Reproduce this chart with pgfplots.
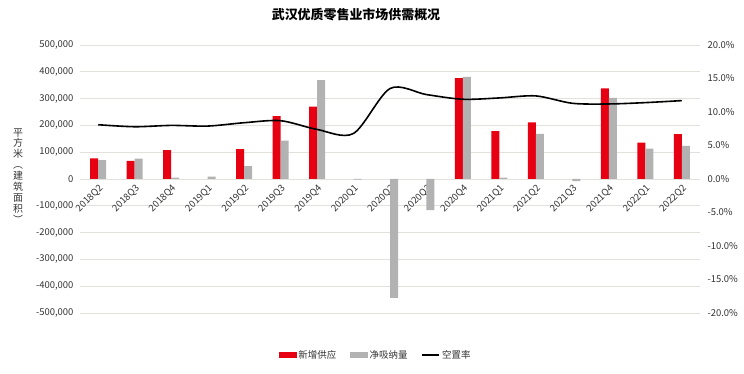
\documentclass[border=0pt]{standalone}
\usepackage{pgfplots}
\pgfplotsset{compat=1.18}
\usepackage{fontspec}
\setmainfont{Noto Sans CJK SC}
\definecolor{cred}{HTML}{E60012}
\definecolor{cgray}{HTML}{B2B2B2}
\definecolor{cgrid}{HTML}{E3E1DC}
\begin{document}
\begin{tikzpicture}
\useasboundingbox (-80bp,-61bp) rectangle (664bp,313bp);
\begin{axis}[
  at={(0,0)}, anchor=south west,
  scale only axis, width=620bp, height=268bp,
  xmin=-0.5, xmax=16.5, ymin=-500000, ymax=500000,
  axis x line*=middle, axis y line*=left,
  axis line style={draw=none},
  major tick length=0pt,
  hide obscured x ticks=false, hide obscured y ticks=false,
  xtick={0,...,16},
  xticklabels={2018Q2,2018Q3,2018Q4,2019Q1,2019Q2,2019Q3,2019Q4,2020Q1,2020Q2,2020Q3,2020Q4,2021Q1,2021Q2,2021Q3,2021Q4,2022Q1,2022Q2},
  x tick label style={xshift=4bp, yshift=-7bp, rotate=45, anchor=east, font=\fontsize{9.5}{10}\selectfont, text=black!80, inner sep=1bp},
  ytick={-500000,-400000,...,500000},
  scaled y ticks=false,
  y tick label style={/pgf/number format/fixed, /pgf/number format/1000 sep={,}, /pgf/number format/assume math mode=true, font=\fontsize{9.5}{10}\selectfont, text=black!80, xshift=-3bp},
  ymajorgrids, grid style={cgrid, line width=0.8bp},
  clip=false,
]
\addplot[ybar, bar width=8bp, bar shift=-4bp, fill=cred, draw=none] coordinates {
 (0,77000) (1,68000) (2,108000) (4,111000) (5,235000) (6,270000)
 (10,376000) (11,179000) (12,211000) (14,338000) (15,136000) (16,167000)};
\addplot[ybar, bar width=8bp, bar shift=4bp, fill=cgray, draw=none] coordinates {
 (0,70000) (1,76000) (2,5000) (3,9000) (4,48000) (5,143000) (6,369000) (7,-2000)
 (8,-444000) (9,-116000) (10,381000) (11,5000) (12,168000) (13,-8000)
 (14,303000) (15,113000) (16,124000)};
\end{axis}
\begin{axis}[
  at={(0,0)}, anchor=south west,
  scale only axis, width=620bp, height=268bp,
  xmin=-0.5, xmax=16.5, ymin=-20, ymax=20,
  axis y line*=right, axis x line=none,
  axis line style={draw=none},
  major tick length=0pt,
  ytick={-20,-15,...,20},
  yticklabel={\pgfmathprintnumber[fixed,fixed zerofill,precision=1,assume math mode=true]{\tick}\%},
  y tick label style={font=\fontsize{9.5}{10}\selectfont, text=black!80, xshift=4bp},
  legend style={at={(0.477,-0.157)}, anchor=center, draw=none, fill=none,
    legend columns=3, font=\fontsize{9.5}{11}\selectfont, text=black!80,
    /tikz/every even column/.append style={column sep=12bp}},
  legend cell align=left,
  clip=false,
]
\addlegendimage{legend image code/.code={\fill[cred] (0bp,-2.5bp) rectangle (17bp,2.5bp);}}
\addlegendentry{新增供应}
\addlegendimage{legend image code/.code={\fill[cgray] (0bp,-2.5bp) rectangle (17bp,2.5bp);}}
\addlegendentry{净吸纳量}
\addplot[black, line width=1.6bp, smooth, tension=0.5, mark=none,
  legend image code/.code={\draw[black, line width=1.6bp] (0bp,0bp) -- (17bp,0bp);}] coordinates {
 (0,8.1) (1,7.8) (2,8.0) (3,7.9) (4,8.4) (5,8.7) (6,7.4) (7,6.8)
 (8,13.5) (9,12.6) (10,11.9) (11,12.1) (12,12.4) (13,11.3) (14,11.2) (15,11.4) (16,11.7)};
\addlegendentry{空置率}
\end{axis}
\node[font=\bfseries\fontsize{13}{14}\selectfont] at (276bp,298bp) {武汉优质零售业市场供需概况};
\node[font=\fontsize{10}{11}\selectfont, align=center, text=black!80] at (-62bp,137bp) {平\\方\\米\\︵\\建\\筑\\面\\积\\︶};
\end{tikzpicture}
\end{document}
